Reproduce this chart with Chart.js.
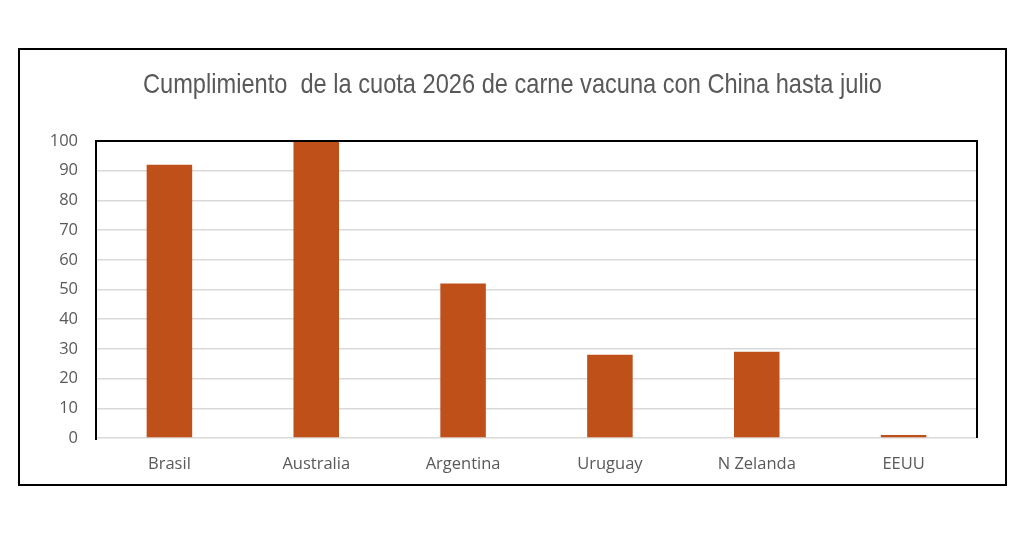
<!DOCTYPE html>
<html>
<head>
<meta charset="utf-8">
<script src="https://cdn.jsdelivr.net/npm/chart.js@4"></script>
<style>
  html, body { margin: 0; padding: 0; background: #fff; }
  #wrap { width: 1024px; height: 535px; }
</style>
</head>
<body>
<div id="wrap"><canvas id="chart1" width="1024" height="535"></canvas></div>
<script>
  "use strict";

  // data
  var categories = ['Brasil', 'Australia', 'Argentina', 'Uruguay', 'N Zelanda', 'EEUU'];
  var cuotaValues = [92, 100, 52, 28, 29, 1];
  var yTicks = [0, 10, 20, 30, 40, 50, 60, 70, 80, 90, 100];
  var chartTitle = 'Cumplimiento  de la cuota 2026 de carne vacuna con China hasta julio';

  var tickFont = { family: '"Open Sans", Lato, sans-serif', size: 16.5 };

  // narrow title (no Arial Narrow here, so squeeze Liberation Sans)
  var narrowTitle = {
    id: 'narrowTitle',
    afterDraw: function(chart) {
      var ctx = chart.ctx;
      ctx.save();
      ctx.font = '28px "Liberation Sans", Arial, sans-serif';
      ctx.fillStyle = '#595959';
      ctx.textAlign = 'center';
      ctx.textBaseline = 'alphabetic';
      var w = ctx.measureText(chartTitle).width;
      var sx = 739 / w;
      ctx.translate(512.5, 93);
      ctx.scale(sx, 1);
      ctx.fillText(chartTitle, 0, 0);
      ctx.restore();
    }
  };

  // outer frame + plot frame (left, top, right)
  var frames = {
    id: 'frames',
    afterDraw: function(chart) {
      var ctx = chart.ctx;
      var a = chart.chartArea;
      ctx.save();
      ctx.strokeStyle = '#000';
      ctx.lineWidth = 2;
      ctx.strokeRect(19, 49, 987, 436);
      ctx.beginPath();
      ctx.moveTo(a.left, a.bottom + 2);
      ctx.lineTo(a.left, a.top);
      ctx.lineTo(a.right, a.top);
      ctx.lineTo(a.right, a.bottom);
      ctx.stroke();
      ctx.restore();
    }
  };

  var ctx = document.getElementById('chart1').getContext('2d');

  var myChart = new Chart(ctx, {
    type: 'bar',
    data: {
      labels: categories,
      datasets: [{
        label: 'Cumplimiento',
        data: cuotaValues,
        backgroundColor: '#C0501A',
        borderWidth: 0,
        barPercentage: 0.31,
        categoryPercentage: 1
      }]
    },
    options: {
      responsive: false,
      animation: false,
      layout: { padding: { left: 20, right: 47, top: 141, bottom: 50 } },
      plugins: {
        legend: { display: false },
        tooltip: { enabled: false },
        title: { display: false }
      },
      scales: {
        x: {
          afterFit: function(scale) { scale.height = 47; },
          grid: { display: false, drawTicks: false },
          border: { display: false },
          ticks: { color: '#595959', font: tickFont, padding: 16 }
        },
        y: {
          min: 0,
          max: 100,
          afterFit: function(scale) { scale.width = 76; },
          afterBuildTicks: function(scale) {
            scale.ticks = yTicks.map(function(v) { return { value: v }; });
          },
          grid: { color: '#d9d9d9', lineWidth: 1.5, drawTicks: false },
          border: { display: false },
          ticks: { color: '#595959', font: tickFont, padding: 18 }
        }
      }
    },
    plugins: [frames, narrowTitle]
  });
</script>
</body>
</html>
